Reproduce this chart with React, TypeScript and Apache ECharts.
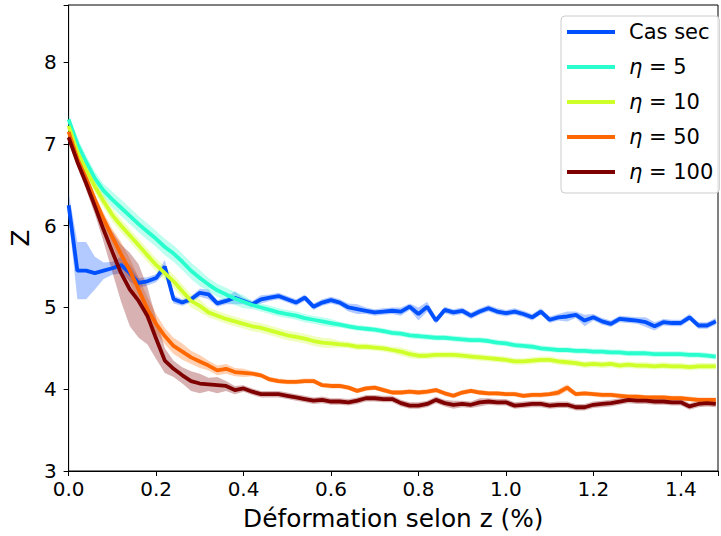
import React, { useEffect, useRef } from 'react';
import * as echarts from 'echarts';

// strain grid (%), sampled every 0.02
const STEP = 0.02;
const N = 75;
const strain: number[] = Array.from({ length: N }, (_, i) => +(i * STEP).toFixed(2));

const seriesNames = ['Cas sec', 'η = 5', 'η = 10', 'η = 50', 'η = 100'];
const seriesColors = ['#0050ff', '#29ffce', '#ceff29', '#ff6800', '#7f0000'];

const casSec = [
  6.25, 5.45, 5.45, 5.42, 5.45, 5.48, 5.52, 5.42, 5.30, 5.32,
  5.36, 5.50, 5.10, 5.06, 5.10, 5.18, 5.16, 5.05, 5.08, 5.12,
  5.08, 5.04, 5.10, 5.12, 5.14, 5.10, 5.06, 5.12, 5.01, 5.06,
  5.09, 5.06, 5.00, 4.98, 4.96, 4.94, 4.95, 4.96, 4.95, 5.01,
  4.92, 5.01, 4.84, 4.97, 4.94, 4.96, 4.90, 4.95, 4.99, 4.95,
  4.93, 4.95, 4.92, 4.88, 4.95, 4.85, 4.88, 4.89, 4.91, 4.84,
  4.88, 4.83, 4.80, 4.86, 4.85, 4.84, 4.82, 4.77, 4.82, 4.81,
  4.81, 4.88, 4.78, 4.78, 4.83,
];
const casSecErr = [
  0.15, 0.35, 0.35, 0.2, 0.1, 0.08, 0.1, 0.1, 0.06, 0.05,
  0.05, 0.08, 0.05, 0.04, 0.04, 0.05, 0.06, 0.04, 0.04, 0.08,
  0.04, 0.04, 0.05, 0.04, 0.04, 0.04, 0.04, 0.04, 0.04, 0.04,
  0.04, 0.04, 0.05, 0.06, 0.04, 0.04, 0.04, 0.04, 0.05, 0.04,
  0.08, 0.06, 0.04, 0.04, 0.04, 0.04, 0.04, 0.04, 0.04, 0.04,
  0.04, 0.04, 0.04, 0.04, 0.04, 0.04, 0.04, 0.06, 0.04, 0.07,
  0.04, 0.04, 0.04, 0.04, 0.04, 0.04, 0.06, 0.05, 0.04, 0.04,
  0.04, 0.04, 0.04, 0.04, 0.04,
];

const eta5 = [
  7.30, 7.00, 6.78, 6.58, 6.43, 6.32, 6.22, 6.12, 6.02, 5.93,
  5.84, 5.74, 5.66, 5.56, 5.45, 5.36, 5.28, 5.21, 5.16, 5.11,
  5.07, 5.03, 5.00, 4.97, 4.94, 4.92, 4.90, 4.87, 4.85, 4.83,
  4.81, 4.79, 4.77, 4.75, 4.74, 4.73, 4.71, 4.69, 4.68, 4.66,
  4.65, 4.64, 4.63, 4.63, 4.62, 4.61, 4.60, 4.60, 4.59, 4.57,
  4.56, 4.54, 4.53, 4.52, 4.50, 4.49, 4.48, 4.48, 4.47, 4.47,
  4.46, 4.46, 4.45, 4.45, 4.44, 4.44, 4.44, 4.43, 4.43, 4.43,
  4.43, 4.42, 4.42, 4.41, 4.40,
];
const eta5Err = [
  0.05, 0.08, 0.08, 0.08, 0.08, 0.1, 0.1, 0.1, 0.1, 0.1,
  0.1, 0.1, 0.1, 0.1, 0.1, 0.1, 0.08, 0.08, 0.08, 0.08,
  0.08, 0.05, 0.05, 0.05, 0.05, 0.05, 0.05, 0.05, 0.05, 0.05,
  0.05, 0.035, 0.035, 0.035, 0.035, 0.035, 0.035, 0.035, 0.035, 0.035,
  0.035, 0.035, 0.035, 0.035, 0.035, 0.035, 0.035, 0.035, 0.035, 0.035,
  0.035, 0.035, 0.035, 0.035, 0.035, 0.035, 0.035, 0.035, 0.035, 0.035,
  0.035, 0.035, 0.035, 0.035, 0.035, 0.035, 0.035, 0.035, 0.035, 0.035,
  0.035, 0.035, 0.035, 0.035, 0.035,
];

const eta10 = [
  7.22, 6.90, 6.68, 6.48, 6.30, 6.13, 6.00, 5.88, 5.76, 5.64,
  5.52, 5.42, 5.32, 5.20, 5.08, 5.02, 4.94, 4.90, 4.86, 4.83,
  4.80, 4.77, 4.75, 4.72, 4.69, 4.66, 4.64, 4.62, 4.59, 4.57,
  4.56, 4.55, 4.54, 4.52, 4.52, 4.51, 4.50, 4.48, 4.46, 4.43,
  4.41, 4.41, 4.42, 4.42, 4.42, 4.41, 4.40, 4.39, 4.38, 4.37,
  4.36, 4.34, 4.34, 4.35, 4.36, 4.36, 4.34, 4.33, 4.32, 4.30,
  4.31, 4.30, 4.31, 4.29, 4.30, 4.29, 4.29, 4.28, 4.29, 4.28,
  4.28, 4.27, 4.28, 4.28, 4.28,
];
const eta10Err = [
  0.05, 0.08, 0.08, 0.08, 0.08, 0.08, 0.08, 0.08, 0.08, 0.08,
  0.08, 0.08, 0.08, 0.08, 0.08, 0.08, 0.06, 0.06, 0.06, 0.06,
  0.06, 0.06, 0.06, 0.06, 0.06, 0.06, 0.06, 0.06, 0.06, 0.06,
  0.06, 0.04, 0.04, 0.04, 0.04, 0.04, 0.04, 0.04, 0.05, 0.05,
  0.04, 0.04, 0.04, 0.04, 0.04, 0.04, 0.04, 0.04, 0.04, 0.04,
  0.04, 0.04, 0.04, 0.04, 0.04, 0.04, 0.04, 0.04, 0.04, 0.04,
  0.04, 0.04, 0.04, 0.04, 0.04, 0.04, 0.04, 0.04, 0.04, 0.04,
  0.04, 0.04, 0.04, 0.04, 0.04,
];

const eta50 = [
  7.15, 6.82, 6.58, 6.32, 6.08, 5.86, 5.65, 5.45, 5.22, 4.98,
  4.80, 4.65, 4.53, 4.46, 4.39, 4.34, 4.29, 4.23, 4.25, 4.21,
  4.20, 4.19, 4.17, 4.12, 4.10, 4.09, 4.09, 4.10, 4.10, 4.05,
  4.04, 4.04, 4.02, 3.98, 4.01, 4.02, 3.99, 3.96, 3.96, 3.97,
  3.96, 3.97, 3.99, 3.95, 3.92, 3.96, 3.98, 3.96, 3.95, 3.95,
  3.94, 3.94, 3.92, 3.93, 3.93, 3.94, 3.96, 4.02, 3.94, 3.95,
  3.94, 3.93, 3.93, 3.92, 3.91, 3.91, 3.90, 3.90, 3.90, 3.89,
  3.89, 3.88, 3.87, 3.87, 3.87,
];
const eta50Err = [
  0.05, 0.06, 0.06, 0.06, 0.08, 0.1, 0.15, 0.15, 0.15, 0.15,
  0.12, 0.1, 0.1, 0.1, 0.08, 0.08, 0.06, 0.06, 0.06, 0.05,
  0.05, 0.03, 0.03, 0.03, 0.03, 0.03, 0.03, 0.03, 0.03, 0.03,
  0.03, 0.03, 0.03, 0.03, 0.03, 0.03, 0.03, 0.03, 0.03, 0.03,
  0.03, 0.03, 0.03, 0.03, 0.03, 0.03, 0.03, 0.03, 0.03, 0.03,
  0.03, 0.03, 0.03, 0.03, 0.03, 0.03, 0.04, 0.04, 0.03, 0.03,
  0.03, 0.03, 0.03, 0.03, 0.03, 0.03, 0.03, 0.03, 0.03, 0.03,
  0.03, 0.03, 0.03, 0.03, 0.03,
];

const eta100 = [
  7.08, 6.78, 6.52, 6.24, 5.95, 5.68, 5.42, 5.22, 5.08, 4.90,
  4.62, 4.35, 4.25, 4.17, 4.10, 4.07, 4.06, 4.05, 4.04, 3.99,
  4.01, 3.97, 3.94, 3.94, 3.94, 3.92, 3.90, 3.88, 3.86, 3.87,
  3.85, 3.85, 3.84, 3.86, 3.89, 3.89, 3.88, 3.88, 3.83, 3.80,
  3.80, 3.82, 3.87, 3.83, 3.81, 3.82, 3.81, 3.84, 3.85, 3.84,
  3.84, 3.80, 3.81, 3.82, 3.82, 3.80, 3.81, 3.81, 3.78, 3.78,
  3.81, 3.82, 3.83, 3.85, 3.87, 3.86, 3.86, 3.85, 3.85, 3.84,
  3.84, 3.79, 3.82, 3.83, 3.82,
];
const eta100Err = [
  0.05, 0.06, 0.08, 0.1, 0.15, 0.25, 0.35, 0.45, 0.45, 0.35,
  0.25, 0.15, 0.1, 0.1, 0.12, 0.12, 0.08, 0.1, 0.06, 0.05,
  0.04, 0.04, 0.04, 0.04, 0.04, 0.04, 0.04, 0.04, 0.04, 0.04,
  0.04, 0.04, 0.04, 0.04, 0.04, 0.04, 0.04, 0.04, 0.04, 0.04,
  0.04, 0.04, 0.04, 0.04, 0.05, 0.04, 0.04, 0.05, 0.04, 0.04,
  0.04, 0.04, 0.04, 0.04, 0.04, 0.04, 0.04, 0.04, 0.04, 0.04,
  0.04, 0.04, 0.04, 0.04, 0.04, 0.04, 0.04, 0.04, 0.04, 0.04,
  0.04, 0.04, 0.04, 0.04, 0.04,
];

const seriesValues = [casSec, eta5, eta10, eta50, eta100];
const seriesErrors = [casSecErr, eta5Err, eta10Err, eta50Err, eta100Err];

const xTicks = [0, 0.2, 0.4, 0.6, 0.8, 1.0, 1.2, 1.4];
const yTicks = [3, 4, 5, 6, 7, 8];

const FONT = 'DejaVu Sans';

export default function App() {
  const ref = useRef<HTMLDivElement>(null);

  useEffect(() => {
    const chart = echarts.init(ref.current!, null, { renderer: 'svg' });
    const series: any[] = [];
    seriesNames.forEach((name, k) => {
      const vals = seriesValues[k];
      const errs = seriesErrors[k];
      const lo = vals.map((v, i) => v - errs[i]);
      const hi = vals.map((v, i) => v + errs[i]);
      const color = seriesColors[k];
      series.push({
        type: 'custom',
        name: name + ' (bande)',
        silent: true,
        clip: true,
        data: strain.map((x, i) => [x, lo[i], hi[i]]),
        encode: { x: 0, y: [1, 2] },
        renderItem: (params: any, api: any) => {
          if (params.dataIndex !== 0) return { type: 'group', children: [] };
          const pts: number[][] = [];
          for (let i = 0; i < strain.length; i++) pts.push(api.coord([strain[i], hi[i]]));
          for (let i = strain.length - 1; i >= 0; i--) pts.push(api.coord([strain[i], lo[i]]));
          return {
            type: 'polygon',
            shape: { points: pts },
            style: { fill: color, opacity: 0.3 },
          };
        },
      });
      series.push({
        type: 'line',
        name,
        data: strain.map((x, i) => [x, vals[i]]),
        symbol: 'none',
        showSymbol: false,
        lineStyle: { width: 3.8, color },
        itemStyle: { color },
        clip: true,
      });
    });

    chart.setOption({
      animation: false,
      backgroundColor: '#ffffff',
      grid: {
        left: 67,
        top: 5,
        right: -2,
        bottom: 64.5,
        show: true,
        borderColor: '#000',
        borderWidth: 1,
        backgroundColor: 'transparent',
      },
      legend: {
        data: seriesNames,
        orient: 'vertical',
        left: 561,
        top: 16,
        padding: [5, 6, 10, 6],
        icon: 'rect',
        itemWidth: 48,
        itemHeight: 4,
        itemGap: 13,
        backgroundColor: 'rgba(255,255,255,0.85)',
        borderColor: '#cccccc',
        borderWidth: 1,
        borderRadius: 4,
        formatter: (name: string) =>
          name.startsWith('η') ? '{i|η}' + name.slice(1) : name,
        textStyle: {
          fontFamily: FONT,
          fontSize: 21,
          color: '#000',
          lineHeight: 22,
          padding: [0, 0, 0, 9],
          rich: {
            i: { fontFamily: FONT, fontSize: 21, fontStyle: 'italic', color: '#000', lineHeight: 22 },
          },
        },
      },
      xAxis: {
        type: 'value',
        min: 0,
        max: 1.485,
        interval: 0.2,
        name: 'Déformation selon z (%)',
        nameLocation: 'middle',
        nameGap: 35,
        nameTextStyle: { fontFamily: FONT, fontSize: 24.8, color: '#000' },
        axisLine: { show: true, lineStyle: { color: '#000', width: 1 } },
        axisTick: { show: true, inside: false, length: 5, lineStyle: { color: '#000' } },
        axisLabel: {
          fontFamily: FONT,
          fontSize: 20,
          color: '#000',
          margin: 8,
          formatter: (v: number) => (xTicks.some((t) => Math.abs(t - v) < 1e-6) ? v.toFixed(1) : ''),
        },
        splitLine: { show: false },
      },
      yAxis: {
        type: 'value',
        min: 3,
        max: 8.7,
        interval: 1,
        name: 'Z',
        nameLocation: 'middle',
        nameGap: 33,
        nameRotate: 90,
        nameTextStyle: { fontFamily: FONT, fontSize: 24.8, color: '#000' },
        axisLine: { show: true, lineStyle: { color: '#000', width: 1 } },
        axisTick: { show: true, inside: false, length: 5, lineStyle: { color: '#000' } },
        axisLabel: {
          fontFamily: FONT,
          fontSize: 20,
          color: '#000',
          margin: 12,
          formatter: (v: number) => (yTicks.includes(v) ? String(v) : ''),
        },
        splitLine: { show: false },
      },
      series,
    });

    return () => chart.dispose();
  }, []);

  return (
    <div
      ref={ref}
      style={{ position: 'absolute', left: 0, top: 0, width: 721, height: 536 }}
    />
  );
}
